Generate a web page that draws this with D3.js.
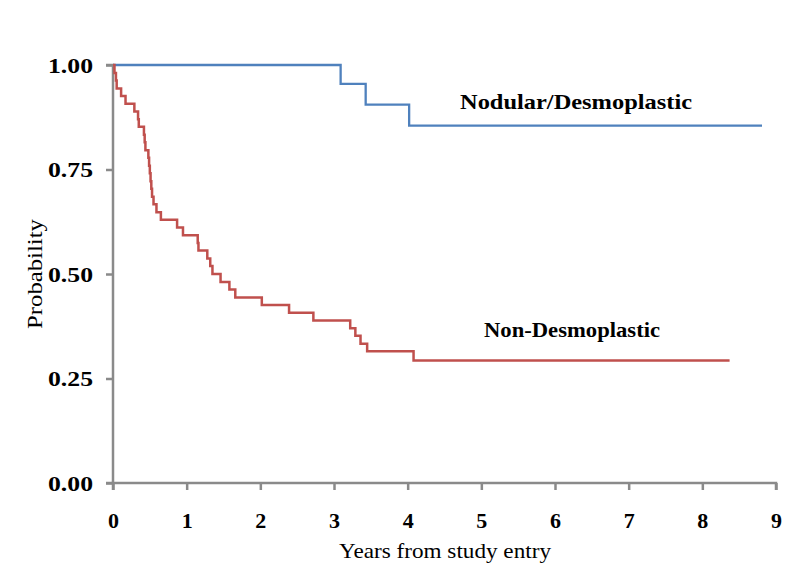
<!DOCTYPE html>
<html><head><meta charset="utf-8">
<script src="https://cdn.jsdelivr.net/npm/d3@7"></script>
<style>body{margin:0;background:#fff}svg{display:block}</style>
</head><body><svg id="c" width="800" height="582"></svg>
<script>
// Kaplan-Meier step data: [time (years), probability after event]
const redTimes = [0, 0.02, 0.04, 0.05, 0.11, 0.17, 0.29, 0.34, 0.35, 0.42, 0.43, 0.44, 0.48, 0.49, 0.50, 0.51, 0.52, 0.53, 0.55, 0.59, 0.65, 0.87, 0.95, 1.15, 1.16, 1.28, 1.32, 1.35, 1.46, 1.58, 1.66, 2.02, 2.39, 2.72, 3.22, 3.29, 3.36, 3.45, 4.08];
const redValues = [1.0, 0.981, 0.963, 0.944, 0.926, 0.907, 0.889, 0.870, 0.852, 0.833, 0.815, 0.796, 0.778, 0.759, 0.741, 0.722, 0.704, 0.685, 0.667, 0.648, 0.630, 0.611, 0.593, 0.574, 0.556, 0.537, 0.519, 0.500, 0.481, 0.463, 0.444, 0.426, 0.407, 0.389, 0.370, 0.352, 0.333, 0.315, 0.293];
const redEnd = 8.37;
const blueTimes = [0, 3.09, 3.43, 4.02];
const blueValues = [1.0, 0.955, 0.905, 0.855];
const blueEnd = 8.81;
const xTicks = [0,1,2,3,4,5,6,7,8,9];
const yTicks = [0, 0.25, 0.5, 0.75, 1.0];
const seriesLabels = ["Nodular/Desmoplastic", "Non-Desmoplastic"];

const svg = d3.select("#c");
const x = d3.scaleLinear().domain([0, 9]).range([113, 776]);
const y = d3.scaleLinear().domain([0, 1]).range([483, 65]);
const axisColor = "#8a8a8a";
const font = "'Liberation Serif', 'Times New Roman', serif";

function series(times, values, end) {
  const pts = times.map((t, i) => [t, values[i]]);
  pts.push([end, values[values.length - 1]]);
  return pts;
}
const line = d3.line().x(d => x(d[0])).y(d => y(d[1])).curve(d3.curveStepAfter);

// axes
const xAxis = svg.append("g").attr("transform", `translate(0,${y(0)})`)
  .call(d3.axisBottom(x).tickValues(xTicks).tickFormat(d3.format("d")).tickSize(7).tickPadding(22));
const yAxis = svg.append("g").attr("transform", `translate(${x(0)},0)`)
  .call(d3.axisLeft(y).tickValues(yTicks).tickFormat(d3.format(".2f")).tickSize(7).tickPadding(13));
[xAxis, yAxis].forEach(g => {
  g.select(".domain").attr("stroke", axisColor).attr("stroke-width", 2.5);
  g.selectAll(".tick line").attr("stroke", axisColor).attr("stroke-width", 2.5);
  g.selectAll(".tick text").attr("font-family", font).attr("font-size", 22)
    .attr("font-weight", "bold").attr("fill", "#000");
});
yAxis.selectAll(".tick text").attr("textLength", 45).attr("lengthAdjust", "spacingAndGlyphs");
xAxis.select(".domain").attr("d", `M${x(0)},7V0H${x(9)}V7`);
yAxis.select(".domain").attr("d", `M-7,${y(1)}H0V${y(0)}H-7`);

// curves
svg.append("path").datum(series(blueTimes, blueValues, blueEnd)).attr("d", line)
  .attr("fill", "none").attr("stroke", "#4F81BD").attr("stroke-width", 2.3);
svg.append("path").datum(series(redTimes, redValues, redEnd)).attr("d", line)
  .attr("fill", "none").attr("stroke", "#C0504D").attr("stroke-width", 2.5);

// series labels
svg.append("text").attr("x", 460).attr("y", 109).text(seriesLabels[0])
  .attr("font-family", font).attr("font-size", 21).attr("font-weight", "bold")
  .attr("textLength", 232).attr("lengthAdjust", "spacingAndGlyphs");
svg.append("text").attr("x", 484).attr("y", 337).text(seriesLabels[1])
  .attr("font-family", font).attr("font-size", 21).attr("font-weight", "bold")
  .attr("textLength", 176).attr("lengthAdjust", "spacingAndGlyphs");

// axis titles
svg.append("text").attr("x", 445).attr("y", 558).attr("text-anchor", "middle")
  .attr("font-family", font).attr("font-size", 21).attr("textLength", 212)
  .attr("lengthAdjust", "spacingAndGlyphs").text("Years from study entry");
svg.append("text").attr("transform", "translate(42,274) rotate(-90)").attr("text-anchor", "middle")
  .attr("font-family", font).attr("font-size", 22).attr("textLength", 110)
  .attr("lengthAdjust", "spacingAndGlyphs").text("Probability");
</script></body></html>
